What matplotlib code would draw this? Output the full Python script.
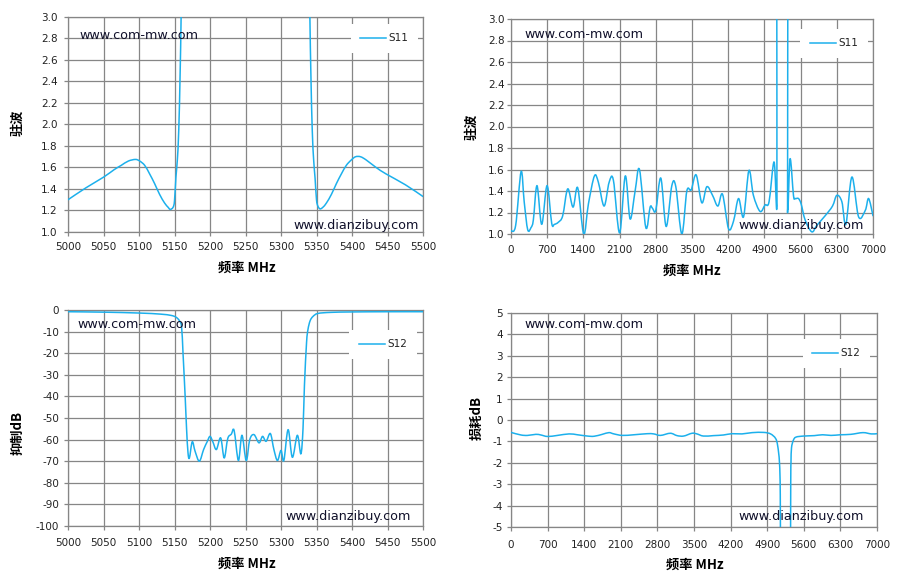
import matplotlib
matplotlib.use("Agg")
import matplotlib.pyplot as plt
from matplotlib.path import Path
from matplotlib.patches import PathPatch
from matplotlib.lines import Line2D
import numpy as np

# ---------------- data ----------------
# Top-left: VSWR (S11) 5000-5500 MHz
tl_freq = [5000, 5025, 5050, 5065, 5075, 5085, 5095, 5101, 5108, 5115, 5122, 5129, 5136, 5141,
           5144, 5148, 5150, 5152, 5154, 5156, 5158, 5160, 5166,
           5334, 5340, 5342, 5344, 5346, 5348, 5350, 5352, 5355, 5359, 5364, 5371, 5378, 5385,
           5392, 5399, 5405, 5412, 5420, 5434, 5448, 5475, 5500]
tl_vswr = [1.30, 1.41, 1.51, 1.58, 1.62, 1.66, 1.675, 1.66, 1.62, 1.54, 1.45, 1.35, 1.27, 1.23,
           1.21, 1.23, 1.29, 1.51, 1.67, 1.95, 2.5, 3.3, 6.0,
           6.0, 3.3, 2.5, 1.95, 1.67, 1.50, 1.30, 1.24, 1.215, 1.23, 1.27, 1.35, 1.45, 1.54,
           1.62, 1.67, 1.70, 1.70, 1.67, 1.60, 1.54, 1.44, 1.33]

# Top-right: VSWR (S11) 0-7000 MHz
tr_freq = [0, 90, 195, 255, 323, 387, 432, 503, 594, 697, 787, 839, 916, 1000, 1097, 1200, 1290,
           1406, 1497, 1613, 1690, 1800, 1897, 1980, 2100, 2210, 2303, 2400, 2484, 2607, 2690,
           2735, 2800, 2897, 3000, 3110, 3187, 3303, 3400, 3484, 3580, 3690, 3787, 3897, 4000,
           4090, 4206, 4303, 4400, 4497, 4600, 4687, 4816, 4913, 4990, 5087, 5139, 5142, 5148,
           5345, 5350, 5352, 5397, 5462, 5494, 5558, 5610, 5688, 5817, 5913, 6075, 6217, 6301,
           6398, 6476, 6592, 6721, 6851, 6915, 7000]
tr_vswr = [1.03, 1.08, 1.58, 1.30, 1.04, 1.06, 1.13, 1.45, 1.09, 1.45, 1.10, 1.09, 1.11, 1.17, 1.42,
           1.25, 1.43, 1.00, 1.28, 1.54, 1.48, 1.26, 1.48, 1.50, 1.01, 1.54, 1.14, 1.40, 1.60,
           1.06, 1.25, 1.24, 1.22, 1.52, 1.07, 1.45, 1.44, 1.00, 1.40, 1.41, 1.55, 1.29, 1.44,
           1.36, 1.26, 1.37, 1.05, 1.12, 1.33, 1.16, 1.59, 1.36, 1.21, 1.27, 1.30, 1.67, 1.24,
           2.2, 8.0, 8.0, 2.2, 1.24, 1.70, 1.36, 1.33, 1.33, 1.28, 1.13, 1.02, 1.08, 1.17, 1.26,
           1.36, 1.30, 1.09, 1.53, 1.16, 1.22, 1.33, 1.17]

# Bottom-left: rejection (S12) dB, 5000-5500 MHz
bl_freq = [5000, 5050, 5100, 5130, 5145, 5152, 5157, 5160, 5162, 5165, 5167, 5169, 5171, 5175,
           5179, 5185, 5191, 5196, 5200, 5204, 5209, 5215, 5220, 5225, 5230, 5234, 5240, 5245,
           5251, 5256, 5262, 5269, 5274, 5279, 5285, 5290, 5295, 5300, 5304, 5310, 5316, 5323,
           5328, 5331, 5333, 5336, 5338, 5341, 5345, 5352, 5370, 5400, 5450, 5500]
bl_db = [-0.8, -1.0, -1.4, -1.9, -2.5, -3.3, -5.0, -8.0, -20, -40, -55, -66, -68.5, -61,
         -65.4, -70, -64.6, -61, -58.5, -61, -64.6, -59.2, -68.5, -59.5, -57.5, -55.8, -69.7, -58,
         -69.7, -60, -57.7, -61.5, -58.5, -60.8, -57.2, -64.6, -69.7, -65, -69.7, -55.4, -68.2, -58,
         -66.6, -55, -35, -15, -9, -5, -3, -1.6, -1.1, -0.9, -0.8, -0.8]

# Bottom-right: insertion loss (S12) dB, 0-7000 MHz
br_freq = [0, 190, 318, 476, 571, 700, 889, 1111, 1270, 1460, 1588, 1746, 1873, 1968, 2127, 2350,
           2604, 2730, 2858, 3048, 3175, 3302, 3461, 3556, 3680, 3872, 4065, 4225, 4418, 4611,
           4835, 4964, 5060, 5100, 5135, 5150, 5158, 5170,
           5330, 5342, 5350, 5355, 5365, 5400, 5450, 5600, 5800, 5960, 6120, 6300, 6500, 6730,
           6890, 7000]
br_db = [-0.58, -0.70, -0.72, -0.67, -0.70, -0.77, -0.72, -0.65, -0.69, -0.75, -0.76, -0.67, -0.59,
         -0.65, -0.72, -0.69, -0.64, -0.65, -0.72, -0.62, -0.73, -0.75, -0.62, -0.65, -0.75, -0.73,
         -0.70, -0.64, -0.65, -0.59, -0.58, -0.65, -0.86, -1.2, -2.0, -3.5, -8.0, -9.0,
         -9.0, -8.0, -3.0, -2.0, -1.3, -0.95, -0.8, -0.75, -0.73, -0.69, -0.72, -0.69, -0.67,
         -0.59, -0.65, -0.64]

wide_ticks = [0, 700, 1400, 2100, 2800, 3500, 4200, 4900, 5600, 6300, 7000]
narrow_ticks = [5000, 5050, 5100, 5150, 5200, 5250, 5300, 5350, 5400, 5450, 5500]
vswr_ticks = [1.0, 1.2, 1.4, 1.6, 1.8, 2.0, 2.2, 2.4, 2.6, 2.8, 3.0]
rej_ticks = [0, -10, -20, -30, -40, -50, -60, -70, -80, -90, -100]
loss_ticks = [5, 4, 3, 2, 1, 0, -1, -2, -3, -4, -5]

# ---------------- style ----------------
plt.rcParams['font.family'] = ['DejaVu Sans', 'Noto Sans CJK SC']
plt.rcParams['axes.unicode_minus'] = False

LINE = '#1CB0EC'
GRID = '#868686'
CJK = ['Noto Sans CJK SC', 'DejaVu Sans']
WM = '#10102a'

W, H = 898, 581
fig = plt.figure(figsize=(W / 100, H / 100), dpi=100)
fig.patch.set_facecolor('white')


def add_ax(l, t, r, b):
    return fig.add_axes([l / W, 1 - b / H, (r - l) / W, (b - t) / H])


def smooth_path(x, y):
    """Excel-style smoothed line: Catmull-Rom segments drawn as cubic Beziers."""
    P = np.column_stack([np.asarray(x, float), np.asarray(y, float)])
    n = len(P)
    verts = [P[0]]
    codes = [Path.MOVETO]
    for i in range(n - 1):
        p0 = P[i - 1] if i > 0 else P[i]
        p1 = P[i]
        p2 = P[i + 1]
        p3 = P[i + 2] if i + 2 < n else P[i + 1]
        verts += [p1 + (p2 - p0) / 6.0, p2 - (p3 - p1) / 6.0, p2]
        codes += [Path.CURVE4] * 3
    return Path(verts, codes)


def style(ax, xticks, yticks, ylim, yfmt, ylabel, ypad, xpad, ylab_xy, xlab_xy,
          wm1, wm2, leg_xy, legname, x, y):
    patch = PathPatch(smooth_path(x, y), facecolor='none', edgecolor=LINE, lw=1.1,
                      transform=ax.transData, zorder=3, joinstyle='round', capstyle='round')
    ax.add_patch(patch)
    ax.set_xlim(xticks[0], xticks[-1])
    ax.set_ylim(*ylim)
    ax.set_xticks(xticks)
    ax.set_yticks(yticks)
    ax.set_yticklabels([yfmt(v) for v in yticks])
    ax.grid(True, color=GRID, lw=0.9, zorder=0)
    ax.set_axisbelow(True)
    for s in ax.spines.values():
        s.set_color(GRID)
        s.set_linewidth(0.9)
    ax.tick_params(axis='y', length=3, width=0.9, color=GRID, pad=ypad, labelsize=7.5,
                   labelcolor='#222222')
    ax.tick_params(axis='x', length=3, width=0.9, color=GRID, pad=xpad, labelsize=7.5,
                   labelcolor='#222222')
    ax.set_ylabel(ylabel, family=CJK, fontweight='bold', fontsize=9.5, va='center', ha='center')
    ax.yaxis.set_label_coords(*ylab_xy)
    ax.set_xlabel('频率 MHz', family=CJK, fontweight='bold', fontsize=9.5, va='center', ha='center')
    ax.xaxis.set_label_coords(*xlab_xy)
    ax.text(wm1[0], wm1[1], 'www.com-mw.com', transform=ax.transAxes, fontsize=9.2,
            color=WM, ha='left', va='center', zorder=5)
    ax.text(wm2[0], wm2[1], 'www.dianzibuy.com', transform=ax.transAxes, fontsize=9.2,
            color=WM, ha='right', va='center', zorder=5)
    handle = Line2D([], [], color=LINE, lw=1.1)
    leg = ax.legend([handle], [legname], loc='center', bbox_to_anchor=leg_xy, frameon=True,
                    fancybox=False, framealpha=1, facecolor='white', edgecolor='none',
                    fontsize=7.5, handlelength=2.5, handletextpad=0.25, borderpad=0.9,
                    borderaxespad=0)
    leg.set_zorder(4)
    for t in leg.get_texts():
        t.set_color('#222222')


f1 = lambda v: f'{v:.1f}'
f0 = lambda v: f'{int(v)}'

ax1 = add_ax(68, 17, 423, 232)
style(ax1, narrow_ticks, vswr_ticks, (1.0, 3.0), f1, '驻波', 4.5, 4.5,
      (-0.141, 0.507), (0.504, -0.167), (0.031, 0.916), (0.989, 0.03), (0.8915, 0.900), 'S11',
      tl_freq, tl_vswr)

ax2 = add_ax(511, 19, 873, 234)
style(ax2, wide_ticks, vswr_ticks, (1.0, 3.0), f1, '驻波', 1.5, 5,
      (-0.1085, 0.50), (0.499, -0.171), (0.036, 0.929), (0.975, 0.04), (0.892, 0.887), 'S11',
      tr_freq, tr_vswr)

ax3 = add_ax(68, 310, 423, 526)
style(ax3, narrow_ticks, rej_ticks, (-100, 0), f0, '抑制dB', 3.5, 6,
      (-0.141, 0.43), (0.504, -0.173), (0.028, 0.935), (0.966, 0.045), (0.887, 0.841), 'S12',
      bl_freq, bl_db)

ax4 = add_ax(511, 313, 877, 527)
style(ax4, wide_ticks, loss_ticks, (-5, 5), f0, '损耗dB', 3, 6,
      (-0.094, 0.51), (0.503, -0.178), (0.036, 0.944), (0.964, 0.05), (0.889, 0.812), 'S12',
      br_freq, br_db)

fig.savefig('out.png', dpi=100, facecolor='white')
